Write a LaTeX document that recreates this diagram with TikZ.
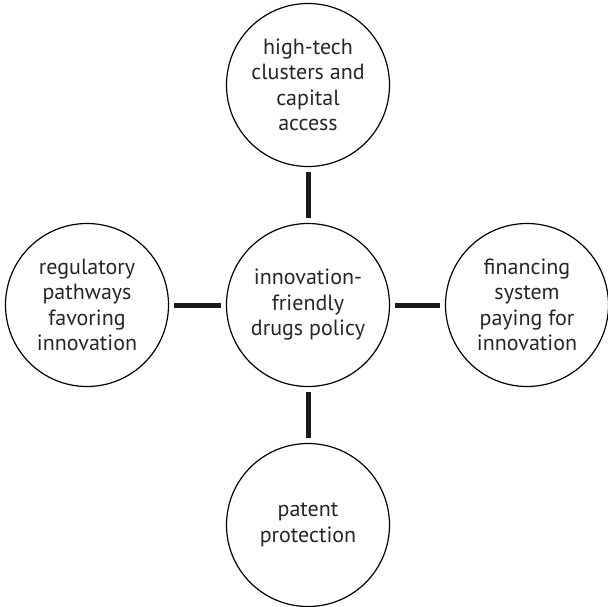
\documentclass[tikz,border=0pt]{standalone}
\usepackage{fontspec}
\setmainfont{PT Sans}
\begin{document}
\begin{tikzpicture}[x=1pt,y=-1pt,
  bubble/.style={circle, draw=black, line width=1.2pt, minimum size=163pt, inner sep=0pt, align=center, font=\fontsize{22}{25.5}\selectfont, text=black!85},
  link/.style={line width=5pt, draw=black!90, shorten >=5pt, shorten <=5pt}]
\useasboundingbox (0,0) rectangle (608,606);
\node[bubble] (c) at (308,305) {innovation-\\friendly\\drugs policy};
\node[bubble] (t) at (308,85) {high-tech\\clusters and\\capital\\access};
\node[bubble] (b) at (308,525) {patent\\protection};
\node[bubble] (l) at (87,305) {regulatory\\pathways\\favoring\\innovation};
\node[bubble] (r) at (527,305) {financing\\system\\paying for\\innovation};
\draw[link] (t) -- (c);
\draw[link] (c) -- (b);
\draw[link] (l) -- (c);
\draw[link] (c) -- (r);
\end{tikzpicture}
\end{document}
